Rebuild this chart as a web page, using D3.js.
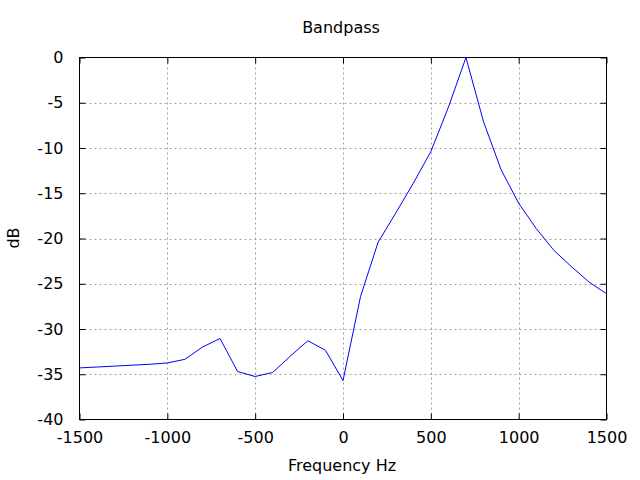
<!DOCTYPE html>
<html><head><meta charset="utf-8">
<script src="https://cdn.jsdelivr.net/npm/d3@7"></script>
<style>body{margin:0;background:#fff}svg{display:block}text{font-family:"DejaVu Sans",sans-serif;font-size:16px;fill:#000}</style>
</head><body><div id="chart"></div>
<script>
const title = "Bandpass";
const xLabel = "Frequency Hz";
const yLabel = "dB";
const frequencies = [-1500,-1400,-1300,-1200,-1100,-1000,-900,-800,-700,-600,-500,-400,-300,-200,-100,0,100,200,300,400,500,600,700,800,900,1000,1100,1200,1300,1400,1500];
const gainDb = [-34.3,-34.2,-34.1,-34.0,-33.9,-33.75,-33.35,-32.0,-31.05,-34.7,-35.25,-34.8,-33.0,-31.3,-32.35,-35.7,-26.4,-20.4,-17.2,-13.9,-10.4,-5.5,0,-7.1,-12.4,-16.1,-18.9,-21.3,-23.1,-24.8,-26.1];
const xTicks = [-1500,-1000,-500,0,500,1000,1500];
const yTicks = [0,-5,-10,-15,-20,-25,-30,-35,-40];

const W = 640, H = 480;
const m = {l:79.5, r:606.5, t:57.5, b:419.5};
const svg = d3.select("#chart").append("svg").attr("width",W).attr("height",H);
const x = d3.scaleLinear().domain([-1500,1500]).range([m.l,m.r]);
const y = d3.scaleLinear().domain([-40,0]).range([m.b,m.t]);
const fmt = d => String(d);

// grid
const g = svg.append("g").attr("stroke","#a0a0a0").attr("stroke-width",1).attr("stroke-dasharray","2,3");
xTicks.slice(1,-1).forEach(v=>g.append("line").attr("x1",Math.round(x(v))+0.5).attr("x2",Math.round(x(v))+0.5).attr("y1",m.t).attr("y2",m.b));
yTicks.slice(1,-1).forEach(v=>g.append("line").attr("y1",Math.round(y(v))+0.5).attr("y2",Math.round(y(v))+0.5).attr("x1",m.l).attr("x2",m.r));

// axes with inward ticks
const ax = svg.append("g");
ax.append("g").attr("transform",`translate(0,${m.b})`).call(d3.axisBottom(x).tickValues(xTicks).tickSize(-6).tickPadding(12).tickFormat(fmt));
ax.append("g").attr("transform",`translate(0,${m.t})`).call(d3.axisTop(x).tickValues(xTicks).tickSize(-6).tickFormat(""));
ax.append("g").attr("transform",`translate(${m.l},0)`).call(d3.axisLeft(y).tickValues(yTicks).tickSize(-6).tickPadding(16).tickFormat(fmt));
ax.append("g").attr("transform",`translate(${m.r},0)`).call(d3.axisRight(y).tickValues(yTicks).tickSize(-6).tickFormat(""));
ax.selectAll(".tick line").attr("stroke","#000");
ax.selectAll("text").attr("font-family","DejaVu Sans, sans-serif").attr("font-size",16).attr("fill","#000");
ax.selectAll("path.domain").remove();
svg.append("rect").attr("x",m.l).attr("y",m.t).attr("width",m.r-m.l).attr("height",m.b-m.t).attr("fill","none").attr("stroke","#000");

// line
const data = frequencies.map((f,i)=>({f, v:gainDb[i]}));
svg.append("path").datum(data).attr("fill","none").attr("stroke","#0000ff").attr("stroke-width",1)
  .attr("d", d3.line().x(d=>x(d.f)).y(d=>y(d.v)));

svg.append("text").attr("x",341).attr("y",33).attr("text-anchor","middle").text(title);
svg.append("text").attr("x",342).attr("y",471).attr("text-anchor","middle").text(xLabel);
svg.append("text").attr("transform","translate(19,238) rotate(-90)").attr("text-anchor","middle").text(yLabel);
</script></body></html>
